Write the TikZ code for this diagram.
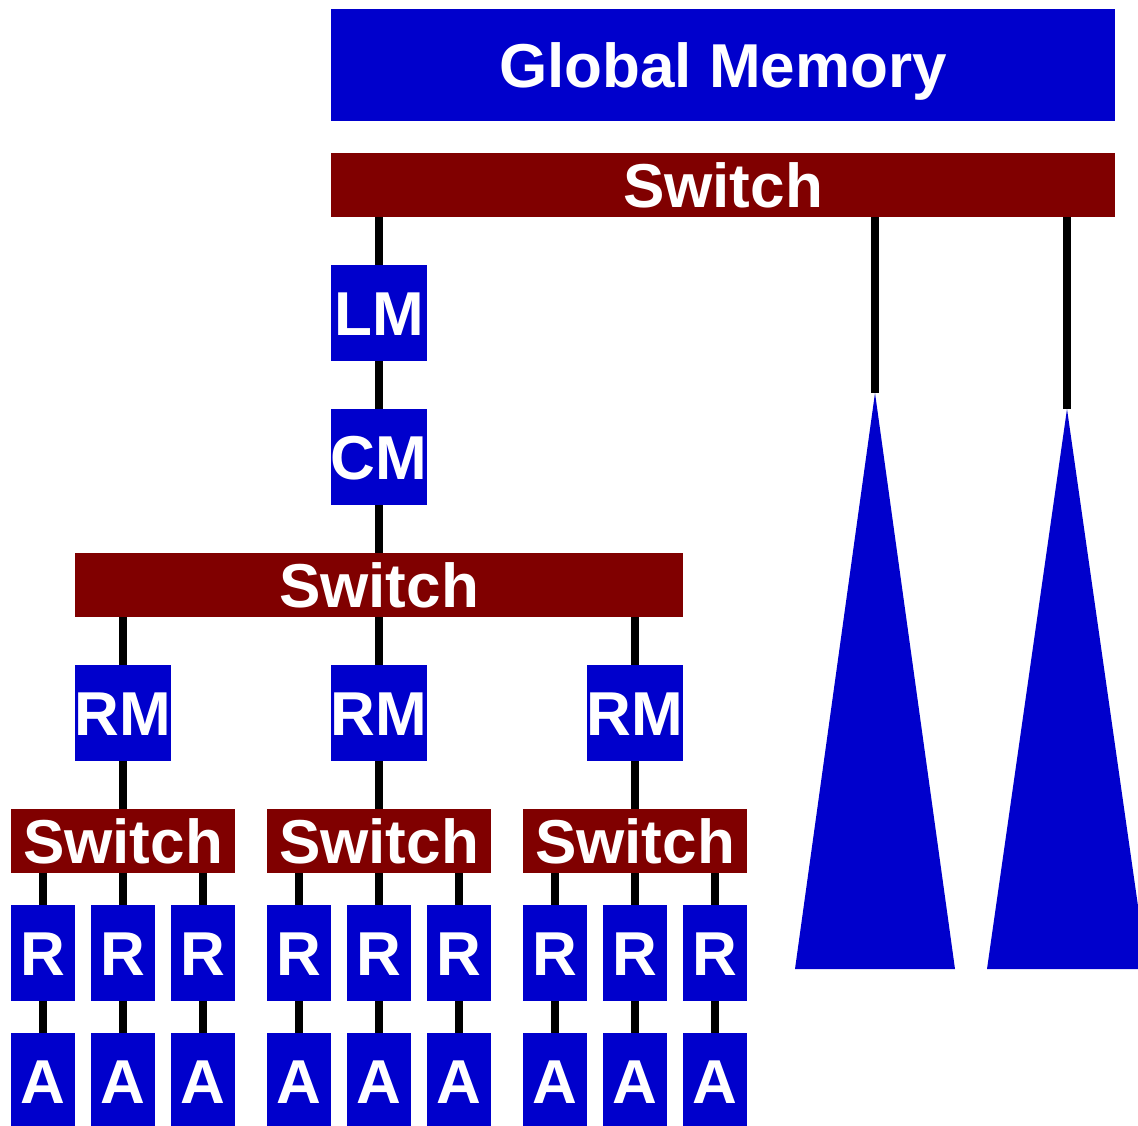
\documentclass[tikz,border=0pt]{standalone}
\usepackage{fontspec}
\setmainfont{Liberation Sans}
\definecolor{memblue}{RGB}{0,0,204}
\definecolor{swred}{RGB}{128,0,0}
\begin{document}
\begin{tikzpicture}[x=1pt,y=-1pt,
  box/.style={fill=memblue,draw=none,inner ysep=0pt,inner xsep=-10pt,text=white,
    font=\fontsize{62}{62}\selectfont\bfseries,text height=45pt,text depth=0pt},
  swbox/.style={box,fill=swred},
  link/.style={line width=8pt,black}]
\clip (0,0) rectangle (1138,1126);
\useasboundingbox (0,0) rectangle (1138,1126);
% nodes
\node[box,minimum width=784pt,minimum height=112pt] (gm) at (723,65) {Global Memory};
\node[swbox,minimum width=784pt,minimum height=64pt] (sw0) at (723,185) {Switch};
\node[box,minimum width=96pt,minimum height=96pt] (lm) at (379,313) {LM};
\node[box,minimum width=96pt,minimum height=96pt] (cm) at (379,457) {CM};
\node[swbox,minimum width=608pt,minimum height=64pt] (sw1) at (379,585) {Switch};
\foreach \i/\x in {1/123,2/379,3/635}{
  \node[box,minimum width=96pt,minimum height=96pt] (rm\i) at (\x,713) {RM};
  \node[swbox,minimum width=224pt,minimum height=64pt] (sws\i) at (\x,841) {Switch};
  \foreach \j/\dx in {1/-80,2/0,3/80}{
    \node[box,minimum width=64pt,minimum height=96pt] (r\i\j) at (\x+\dx,953) {R};
    \node[box,minimum width=64pt,minimum height=96pt] (a\i\j) at (\x+\dx,1081) {A};
    \draw[link] (sws\i.south -| r\i\j.north) -- (r\i\j.north);
    \draw[link] (r\i\j.south) -- (a\i\j.north);
  }
  \draw[link] (sw1.south -| rm\i.north) -- (rm\i.north);
  \draw[link] (rm\i.south) -- (sws\i.north);
}
\draw[link] (sw0.south -| lm.north) -- (lm.north);
\draw[link] (lm.south) -- (cm.north);
\draw[link] (cm.south) -- (sw1.north);
% subtrees
\coordinate (t1) at (875,393);
\coordinate (t2) at (1067,409);
\draw[link] (sw0.south -| t1) -- (t1);
\draw[link] (sw0.south -| t2) -- (t2);
\fill[memblue] (t1) -- (795,969) -- (955,969) -- cycle;
\fill[memblue] (t2) -- (987,969) -- (1147,969) -- cycle;
\end{tikzpicture}
\end{document}
